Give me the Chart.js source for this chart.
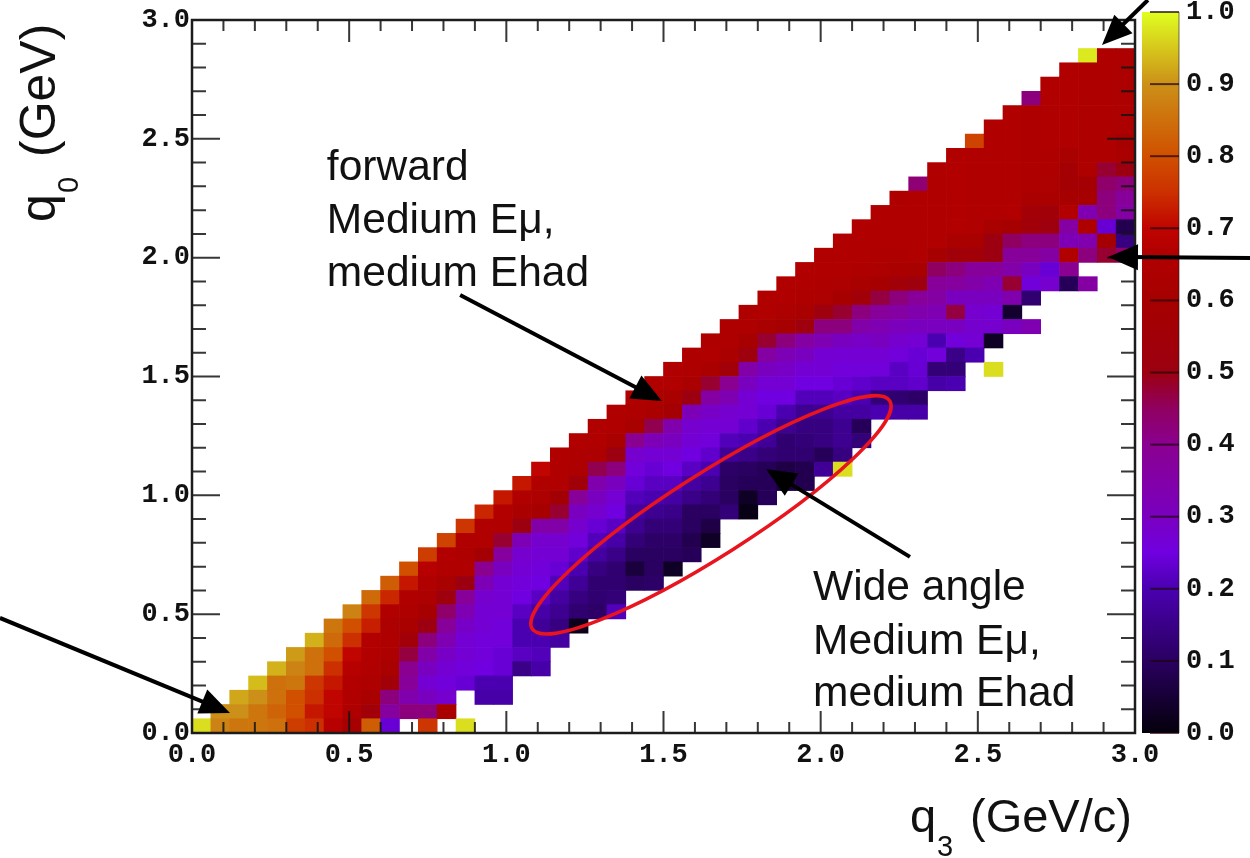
<!DOCTYPE html>
<html>
<head>
<meta charset="utf-8">
<script src="https://cdn.jsdelivr.net/npm/chart.js@4"></script>
<style>
    html, body { margin: 0; padding: 0; background: #fff; }
    canvas { position: absolute; left: 0; top: 0; filter: blur(0.6px); }
</style>
</head>
<body>
<canvas id="scale" width="1250" height="858"></canvas>
<canvas id="plot" width="1250" height="858"></canvas>
<script>
// bin width in GeV, both axes
const binWidth = 0.06;
const xTicks = [0, 0.5, 1, 1.5, 2, 2.5, 3];
const colorTicks = [0, 0.1, 0.2, 0.3, 0.4, 0.5, 0.6, 0.7, 0.8, 0.9, 1];

// highest filled row of each q3 column
const topRow = [0,1,2,3,4,5,6,7,8,9,10,11,12,13,14,15,16,17,18,19,20,21,22,23,24,25,26,27,28,29,30,31,32,33,34,35,36,37,38,39,40,41,42,43,44,45,46,47,47,47];

// cell values of each column, from the top row downwards, null = empty cell
const columns = [
    [.97],
    [.9,.88],
    [.92,.9,.86],
    [.94,.9,.86,.86],
    [.93,.85,.85,.83,.85],
    [.91,.88,.86,.8,.8,.77],
    [.93,.85,.85,.76,.75,.72,.75],
    [.86,.84,.8,.75,.72,.7,.7,.68],
    [.88,.8,.75,.7,.68,.67,.66,.65,.6],
    [.84,.76,.73,.67,.67,.66,.65,.62,.55,.82],
    [.82,.74,.66,.64,.65,.64,.62,.55,.42,.37,.24],
    [.8,.72,.66,.65,.62,.55,.47,.4,.38,.34,.42],
    [.77,.68,.66,.64,.6,.5,.42,.35,.3,.27,.3,.42,.76],
    [.78,.67,.66,.62,.52,.44,.38,.33,.29,.27,.26,.28,.62],
    [.76,.66,.65,.66,.5,.38,.33,.29,.27,.27,.26,.24,null,null,.97],
    [.74,.66,.66,.58,.4,.32,.28,.27,.27,.26,.26,.25,.2,.19],
    [.72,.67,.66,.48,.37,.3,.27,.27,.27,.26,.26,.24,.24,.2,.19],
    [.72,.66,.63,.5,.32,.28,.27,.26,.25,.22,.2,.2,.22,.15],
    [.7,.66,.64,.6,.35,.28,.27,.26,.25,.22,.19,.17,.2,.21,.19],
    [.66,.66,.66,.57,.48,.35,.28,.27,.24,.21,.18,.16,.14,.18],
    [.66,.65,.64,.55,.38,.3,.28,.26,.23,.2,.17,.14,.12,.02],
    [.66,.66,.64,.46,.34,.3,.28,.24,.21,.18,.14,.12,.12,.11],
    [.66,.66,.62,.5,.42,.3,.27,.25,.22,.19,.15,.12,.12,.13,.21],
    [.66,.65,.62,.4,.28,.26,.24,.21,.18,.16,.13,.1,.06,.1],
    [.66,.65,.63,.46,.32,.27,.24,.22,.2,.16,.13,.11,.1,.1,.11],
    [.66,.66,.62,.58,.34,.3,.27,.25,.22,.18,.15,.13,.11,.1,.03],
    [.65,.65,.63,.5,.32,.28,.27,.25,.22,.18,.15,.1,.1,.08,.09],
    [.65,.66,.63,.48,.36,.29,.27,.26,.23,.2,.16,.13,.1,.07,.03],
    [.65,.65,.63,.55,.4,.33,.28,.27,.21,.17,.11,.1,.1,.13],
    [.65,.65,.6,.52,.35,.3,.27,.27,.23,.2,.15,.1,.09,.03,.01],
    [.66,.66,.62,.48,.36,.3,.27,.25,.24,.2,.17,.13,.09,.09,.09],
    [.66,.66,.64,.6,.42,.32,.29,.27,.25,.2,.16,.12,.12,.07,.06],
    [.66,.66,.65,.62,.52,.36,.3,.27,.25,.21,.16,.14,.13,.12,.08,.08],
    [.66,.66,.65,.64,.52,.42,.33,.27,.27,.25,.21,.16,.14,.14,.09,.17],
    [.66,.66,.66,.64,.6,.48,.42,.3,.27,.26,.24,.22,.18,.16,.16,.14,.97],
    [.66,.66,.66,.65,.62,.55,.42,.35,.29,.27,.26,.23,.2,.18,.09,.13],
    [.66,.66,.66,.65,.64,.6,.47,.38,.33,.3,.27,.26,.22,.13,.2],
    [.65,.66,.66,.66,.65,.63,.55,.42,.36,.31,.28,.26,.22,.22,.12,.19],
    [.43,.66,.66,.66,.66,.66,.62,.52,.38,.34,.3,.27,.24,.24,.23,.11,.19],
    [.66,.66,.66,.66,.66,.66,.6,.45,.38,.36,.33,.3,.2,.26,.13,.19],
    [.66,.67,.67,.67,.67,.67,.63,.55,.42,.37,.3,.47,.3,.26,.15,.13,.2],
    [.78,.66,.66,.66,.66,.66,.66,.62,.55,.38,.35,.3,.28,.28,.27,.2],
    [.66,.66,.66,.66,.66,.66,.66,.62,.5,.5,.38,.33,.3,.27,.28,.03,null,.97],
    [.66,.66,.66,.66,.66,.66,.66,.67,.6,.45,.38,.35,.48,.34,.04,.3],
    [.42,.65,.65,.65,.65,.65,.65,.63,.56,.55,.42,.38,.3,.26,.12,null,.33],
    [.66,.66,.66,.66,.66,.65,.65,.64,.63,.55,.52,.42,.36,.24,.28],
    [.66,.66,.66,.66,.66,.66,.62,.58,.58,.6,.67,.36,.32,.66,.4,.09],
    [.98,.65,.65,.65,.65,.65,.65,.65,.65,.58,.6,.33,.65,.34,.42,null,.36],
    [.65,.65,.65,.65,.65,.65,.65,.65,.48,.44,.42,.42,.24,.58,.48],
    [.64,.64,.64,.64,.64,.64,.6,.63,.5,.42,.38,.36,.08,.14,.44]
];

// colour bar stops [value, r, g, b]
const palette = [
    [0, 4, 0, 12], [0.1, 42, 0, 96], [0.2, 74, 0, 176], [0.25, 112, 0, 224],
    [0.3, 122, 0, 192], [0.4, 138, 0, 144], [0.45, 144, 0, 96], [0.5, 156, 0, 16],
    [0.6, 166, 0, 0], [0.67, 178, 0, 0], [0.7, 192, 4, 0], [0.75, 204, 48, 0], [0.8, 208, 80, 0],
    [0.9, 204, 144, 24], [1, 224, 255, 32]
];

function valueColor(v) {
    let i = 1;
    while (i < palette.length - 1 && palette[i][0] < v) i++;
    const a = palette[i - 1], b = palette[i];
    const t = (v - a[0]) / (b[0] - a[0]);
    const mix = k => Math.round(a[k] + (b[k] - a[k]) * t);
    return `rgb(${mix(1)},${mix(2)},${mix(3)})`;
}

const cells = [];
columns.forEach((col, i) => {
    col.forEach((v, k) => {
        if (v === null) return;
        const row = topRow[i] - k;
        cells.push({ x: (i + 0.5) * binWidth, y: [row * binWidth, (row + 1) * binWidth], v: v });
    });
});

// annotations, in axis units
const notes = [
    { x: 0.429, y: 2.327, text: 'forward' },
    { x: 0.429, y: 2.104, text: 'Medium Eμ,' },
    { x: 0.429, y: 1.881, text: 'medium Ehad' },
    { x: 1.976, y: 0.56, text: 'Wide angle' },
    { x: 1.976, y: 0.332, text: 'Medium Eμ,' },
    { x: 1.976, y: 0.114, text: 'medium Ehad' }
];
const arrows = [
    [0.853, 1.843, 1.495, 1.397],
    [2.284, 0.741, 1.826, 1.111],
    [-0.611, 0.484, 0.121, 0.084],
    [3.041, 3.084, 2.895, 2.895],
    [3.366, 1.999, 2.914, 2.003]
];
const ring = { x: 1.651, y: 0.918 };

const tickFont = { family: '"Liberation Mono"', size: 27, weight: 'bold' };
const inkColor = '#1c1c1c';

const frameAndNotes = {
    id: 'frameAndNotes',
    afterDatasetsDraw(chart) {
        const { ctx, chartArea: a, scales: { x, y } } = chart;
        ctx.save();

        // ROOT style ticks, inside the frame on all four sides
        ctx.strokeStyle = 'rgba(20,20,20,0.85)';
        ctx.lineWidth = 2;
        for (let k = 0; k <= 30; k++) {
            const major = k % 5 === 0;
            const px = x.getPixelForValue(k / 10), py = y.getPixelForValue(k / 10);
            const lx = major ? 22 : 11, ly = major ? 28 : 14;
            ctx.beginPath();
            ctx.moveTo(px, a.bottom); ctx.lineTo(px, a.bottom - lx);
            ctx.moveTo(px, a.top); ctx.lineTo(px, a.top + lx);
            ctx.moveTo(a.left, py); ctx.lineTo(a.left + ly, py);
            ctx.moveTo(a.right, py); ctx.lineTo(a.right - ly, py);
            ctx.stroke();
        }
        ctx.strokeStyle = inkColor;
        ctx.lineWidth = 2.5;
        ctx.strokeRect(a.left, a.top, a.right - a.left, a.bottom - a.top);

        ctx.strokeStyle = '#e8141e';
        ctx.lineWidth = 3.5;
        ctx.beginPath();
        ctx.ellipse(x.getPixelForValue(ring.x), y.getPixelForValue(ring.y), 212, 41, -32.5 * Math.PI / 180, 0, Math.PI * 2);
        ctx.stroke();

        ctx.fillStyle = '#111';
        ctx.font = '42.5px "Liberation Sans"';
        ctx.textBaseline = 'alphabetic';
        notes.forEach(n => ctx.fillText(n.text, x.getPixelForValue(n.x), y.getPixelForValue(n.y)));

        // axis titles, subscript set by hand
        ctx.font = '47px "Liberation Sans"';
        ctx.fillText('q', 910, a.bottom + 99);
        ctx.fillText('(GeV/c)', 970, a.bottom + 99);
        ctx.font = '29px "Liberation Sans"';
        ctx.fillText('3', 937, a.bottom + 123);
        ctx.save();
        ctx.translate(55, 222);
        ctx.rotate(-Math.PI / 2);
        ctx.font = '50px "Liberation Sans"';
        ctx.fillText('q', 0, 0);
        ctx.fillText('(GeV)', 65, 0);
        ctx.font = '29px "Liberation Sans"';
        ctx.fillText('0', 29, 23);
        ctx.restore();

        ctx.strokeStyle = '#000';
        ctx.fillStyle = '#000';
        ctx.lineWidth = 4;
        arrows.forEach(([x0, y0, x1, y1]) => {
            const ax = x.getPixelForValue(x0), ay = y.getPixelForValue(y0);
            const bx = x.getPixelForValue(x1), by = y.getPixelForValue(y1);
            const t = Math.atan2(by - ay, bx - ax);
            ctx.beginPath();
            ctx.moveTo(ax, ay);
            ctx.lineTo(bx - 20 * Math.cos(t), by - 20 * Math.sin(t));
            ctx.stroke();
            ctx.beginPath();
            ctx.moveTo(bx, by);
            ctx.lineTo(bx - 30 * Math.cos(t) + 13 * Math.sin(t), by - 30 * Math.sin(t) - 13 * Math.cos(t));
            ctx.lineTo(bx - 30 * Math.cos(t) - 13 * Math.sin(t), by - 30 * Math.sin(t) + 13 * Math.cos(t));
            ctx.closePath();
            ctx.fill();
        });
        ctx.restore();
    }
};

const barTicks = {
    id: 'barTicks',
    afterDatasetsDraw(chart) {
        const { ctx, chartArea: a, scales: { y } } = chart;
        ctx.save();
        ctx.strokeStyle = 'rgba(30,0,10,0.7)';
        ctx.lineWidth = 2;
        colorTicks.forEach(v => {
            const py = y.getPixelForValue(v);
            ctx.beginPath();
            ctx.moveTo(a.right, py);
            ctx.lineTo(a.right - 29, py);
            ctx.stroke();
        });
        ctx.lineWidth = 1;
        ctx.strokeStyle = 'rgba(30,20,20,0.6)';
        ctx.beginPath();
        ctx.moveTo(a.right, a.top);
        ctx.lineTo(a.right, a.bottom);
        ctx.stroke();
        ctx.restore();
    }
};

new Chart(document.getElementById('scale'), {
    type: 'bar',
    data: {
        labels: ['ratio'],
        datasets: [{
            data: [[0, 1]],
            barPercentage: 1,
            categoryPercentage: 1,
            backgroundColor(c) {
                const a = c.chart.chartArea;
                if (!a) return '#000';
                const g = c.chart.ctx.createLinearGradient(0, a.bottom, 0, a.top);
                palette.forEach(p => g.addColorStop(p[0], `rgb(${p[1]},${p[2]},${p[3]})`));
                return g;
            }
        }]
    },
    options: {
        responsive: false,
        animation: false,
        layout: { padding: { left: 1142, top: 12, right: 0, bottom: 125 } },
        plugins: { legend: { display: false }, tooltip: { enabled: false } },
        scales: {
            x: { display: false },
            y: {
                position: 'right',
                min: 0,
                max: 1,
                afterFit(s) { s.width = 71; s.paddingTop = 0; s.paddingBottom = 0; },
                afterBuildTicks(s) { s.ticks = colorTicks.map(v => ({ value: v })); },
                grid: { display: false },
                border: { display: false },
                ticks: { padding: -1, color: '#111', font: tickFont, callback: v => v.toFixed(1) }
            }
        }
    },
    plugins: [barTicks]
});

new Chart(document.getElementById('plot'), {
    type: 'bar',
    data: {
        datasets: [{
            data: cells,
            backgroundColor: cells.map(c => valueColor(c.v)),
            barPercentage: 1,
            categoryPercentage: 1,
            borderWidth: 0
        }]
    },
    options: {
        responsive: false,
        animation: false,
        layout: { padding: { left: 0, top: 20, right: 115, bottom: 0 } },
        plugins: { legend: { display: false }, tooltip: { enabled: false } },
        scales: {
            x: {
                type: 'linear',
                offset: false,
                min: 0,
                max: 3,
                afterFit(s) { s.height = 125; s.paddingLeft = 0; s.paddingRight = 0; },
                afterBuildTicks(s) { s.ticks = xTicks.map(v => ({ value: v })); },
                grid: { display: false },
                border: { display: false },
                ticks: { padding: -2, maxRotation: 0, color: '#111', font: tickFont, callback: v => v.toFixed(1) }
            },
            y: {
                min: 0,
                max: 3,
                afterFit(s) { s.width = 192; s.paddingTop = 0; s.paddingBottom = 0; },
                afterBuildTicks(s) { s.ticks = xTicks.map(v => ({ value: v })); },
                grid: { display: false },
                border: { display: false },
                ticks: { padding: -6, color: '#111', font: tickFont, callback: v => v.toFixed(1) }
            }
        }
    },
    plugins: [frameAndNotes]
});
</script>
</body>
</html>
